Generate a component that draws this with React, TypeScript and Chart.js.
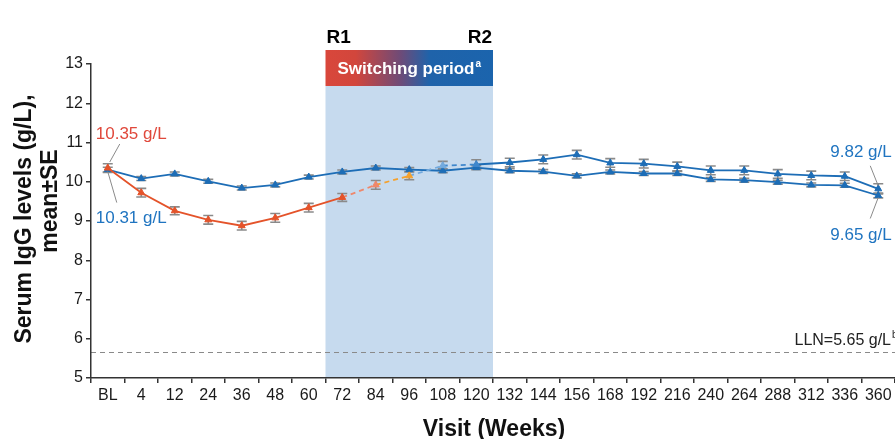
import React, { useEffect, useRef } from 'react';
import { Chart, registerables } from 'chart.js';

Chart.register(...registerables);

// ---------- data ----------
const categories = ['BL', '4', '12', '24', '36', '48', '60', '72', '84', '96', '108', '120', '132', '144', '156', '168', '192', '216', '240', '264', '288', '312', '336', '360'];

// group that started on R1 (red) and switched to R2 during the switching period
const switchedMean = [10.35, 9.72, 9.26, 9.03, 8.88, 9.08, 9.34, 9.6, 9.92, 10.15, 10.41, 10.44, 10.49, 10.57, 10.69, 10.48, 10.46, 10.39, 10.29, 10.29, 10.2, 10.16, 10.14, 9.82];
const switchedSE = [0.11, 0.11, 0.1, 0.11, 0.11, 0.11, 0.11, 0.1, 0.11, 0.1, 0.11, 0.12, 0.11, 0.11, 0.11, 0.11, 0.11, 0.11, 0.11, 0.11, 0.11, 0.11, 0.11, 0.13];

// group on R2 (blue) throughout
const continuedMean = [10.31, 10.08, 10.2, 10.01, 9.84, 9.92, 10.12, 10.25, 10.35, 10.31, 10.28, 10.36, 10.28, 10.26, 10.15, 10.25, 10.21, 10.21, 10.06, 10.04, 9.99, 9.92, 9.91, 9.65];
const continuedSE = [0.06, 0.05, 0.05, 0.05, 0.05, 0.05, 0.05, 0.05, 0.05, 0.05, 0.05, 0.05, 0.05, 0.05, 0.05, 0.05, 0.05, 0.05, 0.05, 0.05, 0.05, 0.05, 0.05, 0.06];

const yMin = 5;
const yMax = 13;
const yStep = 1;
const llnValue = 5.65;
const switchStart = '72';
const switchEnd = '120';

// ---------- style ----------
const FONT = '"Liberation Sans", Arial, Helvetica, sans-serif';
const RED = '#e4532a';
const SALMON = '#ef876b';
const ORANGE = '#f5a12c';
const LIGHTBLUE = '#74aadd';
const MIDBLUE = '#3f87cc';
const BLUE = '#1d6db6';
const ERR = '#8a8a8a';
const AXIS = '#333333';

const iStart = categories.indexOf(switchStart);
const iEnd = categories.indexOf(switchEnd);

const segColor = (i: number) =>
  i < iStart ? RED : i === iStart ? SALMON : i === iStart + 1 ? ORANGE : i === iStart + 2 ? LIGHTBLUE : i < iEnd ? MIDBLUE : BLUE;
const segDash = (i: number) => (i >= iStart && i < iEnd ? [5, 4] : []);
const switchedPointColors = categories.map((_, i) =>
  i <= iStart ? RED : i === iStart + 1 ? SALMON : i === iStart + 2 ? ORANGE : i === iStart + 3 ? LIGHTBLUE : i === iEnd ? MIDBLUE : BLUE
);

const decorPlugin = {
  id: 'decor',
  beforeDraw(chart: any) {
    const { ctx, chartArea, scales } = chart;
    const x = scales.x;
    const y = scales.y;
    const half = (x.getPixelForValue(1) - x.getPixelForValue(0)) / 2;
    const left = x.getPixelForValue(iStart) - half;
    const right = x.getPixelForValue(iEnd) + half;
    const bandTop = chartArea.top - 14;
    const bandBottom = chartArea.top + 22;
    ctx.save();
    // shaded switching period
    ctx.fillStyle = '#c6daee';
    ctx.fillRect(left, bandBottom, right - left, chartArea.bottom - bandBottom);
    // header band
    const g = ctx.createLinearGradient(left, 0, right, 0);
    g.addColorStop(0, '#d9473b');
    g.addColorStop(0.18, '#d2463c');
    g.addColorStop(0.45, '#6d4b78');
    g.addColorStop(0.62, '#1f63aa');
    g.addColorStop(1, '#1b64ad');
    ctx.fillStyle = g;
    ctx.fillRect(left, bandTop, right - left, bandBottom - bandTop);
    // header text
    ctx.fillStyle = '#ffffff';
    ctx.font = `bold 17px ${FONT}`;
    const mainTxt = 'Switching period';
    const w1 = ctx.measureText(mainTxt).width;
    ctx.font = `bold 10px ${FONT}`;
    const w2 = ctx.measureText('a').width;
    const cx = (left + right) / 2;
    const cy = (bandTop + bandBottom) / 2;
    const sx = cx - (w1 + w2 + 1) / 2;
    ctx.textBaseline = 'middle';
    ctx.textAlign = 'left';
    ctx.font = `bold 17px ${FONT}`;
    ctx.fillText(mainTxt, sx, cy + 1);
    ctx.font = `bold 10px ${FONT}`;
    ctx.fillText('a', sx + w1 + 1, cy - 4);
    // R1 / R2
    ctx.fillStyle = '#000000';
    ctx.font = `bold 19px ${FONT}`;
    ctx.textBaseline = 'alphabetic';
    ctx.textAlign = 'left';
    ctx.fillText('R1', left + 1, bandTop - 7);
    ctx.textAlign = 'right';
    ctx.fillText('R2', right - 1, bandTop - 7);
    // LLN line
    const yl = y.getPixelForValue(llnValue);
    ctx.strokeStyle = '#8a8a8a';
    ctx.lineWidth = 1.2;
    ctx.setLineDash([5, 4]);
    ctx.beginPath();
    ctx.moveTo(chartArea.left, yl);
    ctx.lineTo(chartArea.right, yl);
    ctx.stroke();
    ctx.setLineDash([]);
    // LLN label
    ctx.fillStyle = '#222222';
    ctx.font = `16px ${FONT}`;
    ctx.textAlign = 'right';
    ctx.textBaseline = 'middle';
    const lbl = `LLN=${llnValue.toFixed(2)} g/L`;
    ctx.fillText(lbl, 891, yl - 12);
    ctx.font = `10px ${FONT}`;
    ctx.textAlign = 'left';
    ctx.fillText('b', 892, yl - 17);
    ctx.restore();
  },
  beforeDatasetsDraw(chart: any) {
    const { ctx, scales } = chart;
    const y = scales.y;
    ctx.save();
    ctx.strokeStyle = ERR;
    ctx.lineWidth = 1.6;
    const sets = [
      { meta: chart.getDatasetMeta(1), mean: continuedMean, se: continuedSE },
      { meta: chart.getDatasetMeta(0), mean: switchedMean, se: switchedSE },
    ];
    sets.forEach(({ meta, mean, se }) => {
      meta.data.forEach((pt: any, i: number) => {
        const top = y.getPixelForValue(mean[i] + se[i]);
        const bot = y.getPixelForValue(mean[i] - se[i]);
        ctx.beginPath();
        ctx.moveTo(pt.x, top);
        ctx.lineTo(pt.x, bot);
        ctx.moveTo(pt.x - 5, top);
        ctx.lineTo(pt.x + 5, top);
        ctx.moveTo(pt.x - 5, bot);
        ctx.lineTo(pt.x + 5, bot);
        ctx.stroke();
      });
    });
    ctx.restore();
  },
  afterDraw(chart: any) {
    const { ctx } = chart;
    const m0 = chart.getDatasetMeta(0).data;
    const m1 = chart.getDatasetMeta(1).data;
    const last = categories.length - 1;
    ctx.save();
    ctx.font = `17px ${FONT}`;
    ctx.textBaseline = 'middle';
    ctx.textAlign = 'left';
    ctx.strokeStyle = '#8a8a8a';
    ctx.lineWidth = 1;
    const leader = (x1: number, y1: number, x2: number, y2: number) => {
      ctx.beginPath();
      ctx.moveTo(x1, y1);
      ctx.lineTo(x2, y2);
      ctx.stroke();
    };
    // start labels
    const p = m0[0];
    ctx.fillStyle = '#e0483b';
    ctx.fillText(`${switchedMean[0].toFixed(2)} g/L`, p.x - 12, p.y - 34);
    leader(p.x + 12, p.y - 24, p.x + 2, p.y - 6);
    const q = m1[0];
    ctx.fillStyle = '#1f74c0';
    ctx.fillText(`${continuedMean[0].toFixed(2)} g/L`, q.x - 12, q.y + 49);
    leader(q.x, q.y + 2, q.x + 9, q.y + 33);
    // end labels
    const r = m0[last];
    ctx.fillText(`${switchedMean[last].toFixed(2)} g/L`, r.x - 48, r.y - 37);
    leader(r.x - 8, r.y - 23, r.x, r.y - 3);
    const s = m1[last];
    ctx.fillText(`${continuedMean[last].toFixed(2)} g/L`, s.x - 48, s.y + 40);
    leader(s.x, s.y + 2, s.x - 8, s.y + 23);
    // axis titles
    ctx.fillStyle = '#111111';
    ctx.font = `bold 23px ${FONT}`;
    ctx.textAlign = 'center';
    ctx.textBaseline = 'alphabetic';
    ctx.fillText('Visit (Weeks)', 494, 436);
    ctx.save();
    ctx.translate(0, 219);
    ctx.rotate(-Math.PI / 2);
    ctx.font = `bold 23px ${FONT}`;
    ctx.fillText('Serum IgG levels (g/L),', 0, 31);
    ctx.restore();
    ctx.save();
    ctx.translate(0, 201);
    ctx.rotate(-Math.PI / 2);
    ctx.font = `bold 23px ${FONT}`;
    ctx.fillText('mean±SE', 0, 57);
    ctx.restore();
    ctx.restore();
  },
};

export default function App() {
  const ref = useRef<HTMLCanvasElement | null>(null);
  useEffect(() => {
    if (!ref.current) return;
    const chart = new Chart(ref.current, {
      type: 'line',
      data: {
        labels: categories,
        datasets: [
          {
            label: 'R1 → R2',
            data: switchedMean,
            borderWidth: 1.8,
            borderColor: RED,
            pointStyle: 'triangle',
            pointRadius: 4,
            pointBackgroundColor: switchedPointColors,
            pointBorderColor: switchedPointColors,
            pointBorderWidth: 1,
            segment: {
              borderColor: (c: any) => segColor(c.p0DataIndex),
              borderDash: (c: any) => segDash(c.p0DataIndex),
            },
            order: 0,
          } as any,
          {
            label: 'R2',
            data: continuedMean,
            borderWidth: 1.8,
            borderColor: BLUE,
            pointStyle: 'triangle',
            pointRadius: 4,
            pointBackgroundColor: BLUE,
            pointBorderColor: BLUE,
            pointBorderWidth: 1,
            order: 1,
          },
        ],
      },
      options: {
        responsive: false,
        animation: false,
        devicePixelRatio: 1,
        layout: { autoPadding: false, padding: { top: 64, right: -4, left: 0, bottom: 0 } },
        plugins: { legend: { display: false }, tooltip: { enabled: false } },
        scales: {
          x: {
            type: 'category',
            offset: true,
            grid: { display: true, drawOnChartArea: false, offset: true, tickLength: 5, color: AXIS, lineWidth: 1.5 },
            border: { display: true, color: AXIS, width: 1.5 },
            ticks: { font: { size: 16, family: FONT }, color: '#1a1a1a', padding: 3, maxRotation: 0, autoSkip: false },
            afterFit: (s: any) => {
              s.height = 61;
              s.paddingLeft = 0;
              s.paddingRight = 0;
            },
          },
          y: {
            min: yMin,
            max: yMax,
            grid: { display: true, drawOnChartArea: false, tickLength: 5, color: AXIS, lineWidth: 1.5 },
            border: { display: true, color: AXIS, width: 1.5 },
            ticks: { stepSize: yStep, font: { size: 16, family: FONT }, color: '#1a1a1a', padding: 3 },
            afterFit: (s: any) => {
              s.width = 91;
            },
          },
        },
      },
      plugins: [decorPlugin],
    });
    return () => chart.destroy();
  }, []);
  return (
    <div style={{ position: 'fixed', left: 0, top: 0, width: 895, height: 439, background: '#fff' }}>
      <canvas ref={ref} width={895} height={439} style={{ display: 'block', width: 895, height: 439 }} />
    </div>
  );
}
